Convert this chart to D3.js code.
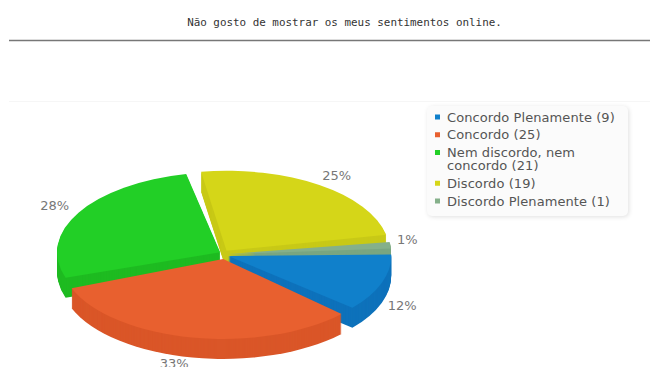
<!DOCTYPE html>
<html lang="pt">
<head>
<meta charset="utf-8">
<title>Não gosto de mostrar os meus sentimentos online.</title>
<script src="https://cdn.jsdelivr.net/npm/d3@7"></script>
<style>
  html, body { margin: 0; padding: 0; background: #fff; }
  svg { display: block; }
</style>
</head>
<body>
<script>
const title = "Não gosto de mostrar os meus sentimentos online.";
const categories = ["Concordo Plenamente", "Concordo", "Nem discordo, nem\nconcordo", "Discordo", "Discordo Plenamente"];
const counts = [9, 25, 21, 19, 1];
const topColors = ["#1080cb", "#e8602f", "#22cf26", "#d5d618", "#85b08a"];
const wallColors = ["#0e72bb", "#da5628", "#1ebb21", "#c8c917", "#7aa680"];
// Painting order of the slices, rear to front.
const paintOrder = [3, 4, 2, 0, 1];

const width = 650, height = 367;
const svg = d3.select("body").append("svg").attr("width", width).attr("height", height);

// Title and rules
svg.append("text").attr("x", 344.5).attr("y", 26).attr("text-anchor", "middle")
  .attr("font-family", "'DejaVu Sans Mono', monospace").attr("font-size", 10.9).attr("fill", "#333")
  .text(title);
svg.append("line").attr("x1", 9).attr("x2", width).attr("y1", 40.5).attr("y2", 40.5)
  .attr("stroke", "#777").attr("stroke-width", 1.5);
svg.append("line").attr("x1", 9).attr("x2", width).attr("y1", 101.5).attr("y2", 101.5)
  .attr("stroke", "#f6f6f6");

// Pie geometry: a disc tilted back, each slice pushed out along its middle angle.
const cx = 224, cy = 254.5, rx = 163, ry = 80, depth = 20, explode = 4.5;
const total = d3.sum(counts);
const deg = 180 / Math.PI;
const startRotation = -1 / deg;

// d3.pie counts the pad inside endAngle; the gap is taken off the far side of each slice.
const slices = d3.pie().sort(null)
  .startAngle(startRotation).endAngle(startRotation + 2 * Math.PI).padAngle(3 / deg)(counts)
  .map((s, i) => {
    const a0 = s.startAngle, a1 = s.endAngle - s.padAngle;
    const mid = (a0 + a1) / 2;
    return { i, value: s.value, a0, a1, mid,
      ox: cx + explode * Math.cos(mid),
      oy: cy + explode * Math.sin(mid) };
  });

// d3.arc measures from 12 o'clock; the slices run clockwise from 3 o'clock.
const sector = d3.arc().innerRadius(0).outerRadius(rx)
  .startAngle(d => d.a0 + Math.PI / 2).endAngle(d => d.a1 + Math.PI / 2);

const pie = svg.append("g");
paintOrder.forEach(idx => {
  const s = slices[idx];
  const g = pie.append("g");
  g.selectAll("path.wall").data(d3.range(depth, 0, -1)).join("path")
    .attr("class", "wall")
    .attr("d", sector(s))
    .attr("transform", k => `translate(${s.ox},${s.oy + k}) scale(1,${ry / rx})`)
    .attr("fill", wallColors[idx]);
  g.append("path")
    .attr("d", sector(s))
    .attr("transform", `translate(${s.ox},${s.oy}) scale(1,${ry / rx})`)
    .attr("fill", topColors[idx]);
});

// Percentage labels around the disc; lower labels also clear the wall.
const labelRx = 176, labelRy = 90;
svg.append("g").selectAll("text").data(slices).join("text")
  .attr("x", s => cx - 2 + labelRx * Math.cos(s.mid))
  .attr("y", s => {
    const sin = Math.sin(s.mid);
    return cy + labelRy * sin + (sin > 0 ? depth : -5);
  })
  .attr("dy", "0.36em")
  .attr("text-anchor", s => Math.cos(s.mid) > 0 ? "start" : "end")
  .attr("font-family", "'DejaVu Sans', sans-serif").attr("font-size", 13).attr("fill", "#777")
  .text(s => `${Math.round(s.value / total * 100)}%`);

// Legend
const legend = svg.append("g");
legend.append("rect").attr("x", 427).attr("y", 106).attr("width", 201).attr("height", 110).attr("rx", 5)
  .attr("fill", "#fbfbfb").style("filter", "drop-shadow(1px 1px 2px rgba(0,0,0,0.12))");
const lineHeight = 13, rowGap = 17.75;
let rowY = 117;
categories.forEach((name, i) => {
  const lines = name.split("\n");
  lines[lines.length - 1] += ` (${counts[i]})`;
  legend.append("rect").attr("x", 435).attr("y", rowY - 2.5).attr("width", 5).attr("height", 5)
    .attr("fill", topColors[i]);
  lines.forEach((line, j) => {
    legend.append("text").attr("x", 447).attr("y", rowY + j * lineHeight).attr("dy", "0.36em")
      .attr("font-family", "'DejaVu Sans', sans-serif").attr("font-size", 13).attr("fill", "#555")
      .attr("letter-spacing", 0.08)
      .text(line);
  });
  rowY += rowGap + (lines.length - 1) * lineHeight;
});
</script>
</body>
</html>
